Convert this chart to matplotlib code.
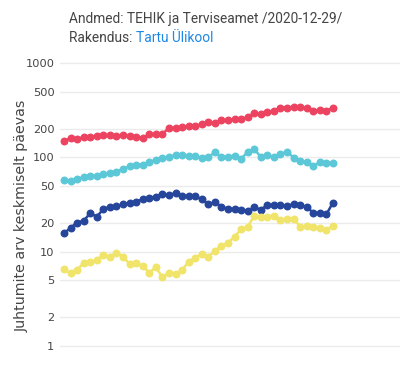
import matplotlib
matplotlib.use("Agg")
import matplotlib.pyplot as plt
import numpy as np

days = list(range(42))

punane = [150, 160, 156, 166, 166, 169, 172, 172, 170, 172, 168, 165, 160, 176, 176,
          179, 204, 207, 209, 216, 218, 224, 240, 232, 249, 249, 255, 257, 269, 295,
          288, 307, 312, 338, 338, 347, 344, 333, 314, 320, 314, 336]
helesinine = [57.7, 56.3, 59.5, 61.6, 63.1, 63.6, 66.3, 67.9, 70.6, 75.5, 80.6, 83.8,
              83.8, 88.9, 94.8, 99.5, 100.5, 106, 106, 104.5, 104.5, 98, 100.5, 113.5,
              100.5, 102, 104.5, 96.4, 115, 123, 101, 106, 100.5, 109, 115, 99.5, 92.5,
              89, 81.3, 89, 86.8, 86.8]
tumesinine = [15.6, 17.9, 20.3, 21.3, 25.5, 23.5, 28.2, 30.0, 30.5, 31.8, 32.6, 33.9,
              36.0, 37.4, 38.3, 40.6, 39.9, 41.7, 39.3, 39.0, 38.5, 36.0, 31.8, 33.4,
              30.0, 28.4, 28.2, 27.7, 27.0, 29.6, 27.7, 31.3, 31.3, 31.3, 30.5, 32.0,
              31.3, 29.6, 25.9, 25.5, 24.9, 33.1]
kollane = [6.48, 5.88, 6.37, 7.62, 7.70, 8.14, 9.2, 8.7, 9.73, 8.83, 7.38, 7.51, 7.03,
           5.97, 6.81, 5.33, 5.97, 5.78, 6.37, 7.81, 8.6, 9.43, 8.83, 10.2, 11.5, 12.4,
           14.4, 17.2, 18.4, 23.9, 23.5, 23.5, 24.1, 21.7, 22.4, 22.4, 18.4, 18.7, 18.4,
           17.7, 17.0, 18.8]

yticks = [1, 2, 5, 10, 20, 50, 100, 200, 500, 1000]
ytick_labels = ["1", "2", "5", "10", "20", "50", "100", "200", "500", "1000"]

series = [
    (punane, "#EC4460"),
    (helesinine, "#5CC8D7"),
    (tumesinine, "#26469C"),
    (kollane, "#F0E46A"),
]

W, H = 402, 380
fig = plt.figure(figsize=(W / 100, H / 100), dpi=100)
ax_left, ax_right = 60, 400
ax_top, ax_bottom = 58, 352
ax = fig.add_axes([ax_left / W, 1 - ax_bottom / H, (ax_right - ax_left) / W,
                   (ax_bottom - ax_top) / H])

ax.set_yscale("log")
ppd = 94.1
ax.set_ylim(10 ** (-(ax_bottom - 345.7) / ppd), 10 ** (3 + (63.3 - ax_top) / ppd))
dx = 6.56
ax.set_xlim(-(64 - ax_left) / dx, (ax_right - 64) / dx)

for vals, col in series:
    ax.plot(days, vals, color=col, lw=1.8, marker="o", ms=4.7, mec=col, mfc=col,
            solid_joinstyle="round", zorder=3)

ax.set_yticks(yticks)
ax.set_yticklabels(ytick_labels)
ax.yaxis.set_minor_locator(matplotlib.ticker.NullLocator())
ax.set_xticks([])
ax.grid(axis="y", color="#EBEBEB", lw=1)
ax.set_axisbelow(True)
for s in ax.spines.values():
    s.set_visible(False)
ax.tick_params(axis="y", length=0, pad=4, labelsize=8.2, labelcolor="#444444")
for t in ax.get_yticklabels():
    t.set_family("DejaVu Sans")

fig.text(22 / W, 1 - 216 / H, "Juhtumite arv keskmiselt päevas", rotation=90,
         ha="center", va="center", fontsize=10.2, color="#444444", family="DejaVu Sans")

fig.text(69 / W, 1 - 19 / H, "Andmed: TEHIK ja Terviseamet /2020-12-29/",
         ha="left", va="center", fontsize=9.9, color="#444444", family="Roboto")
t1 = fig.text(69 / W, 1 - 38 / H, "Rakendus: ", ha="left", va="center",
              fontsize=9.9, color="#444444", family="Roboto")
fig.canvas.draw()
bb = t1.get_window_extent()
fig.text(bb.x1 / W, 1 - 38 / H, "Tartu Ülikool", ha="left", va="center",
         fontsize=9.9, color="#1E88E5", family="Roboto")

fig.savefig("out.png", dpi=100)
